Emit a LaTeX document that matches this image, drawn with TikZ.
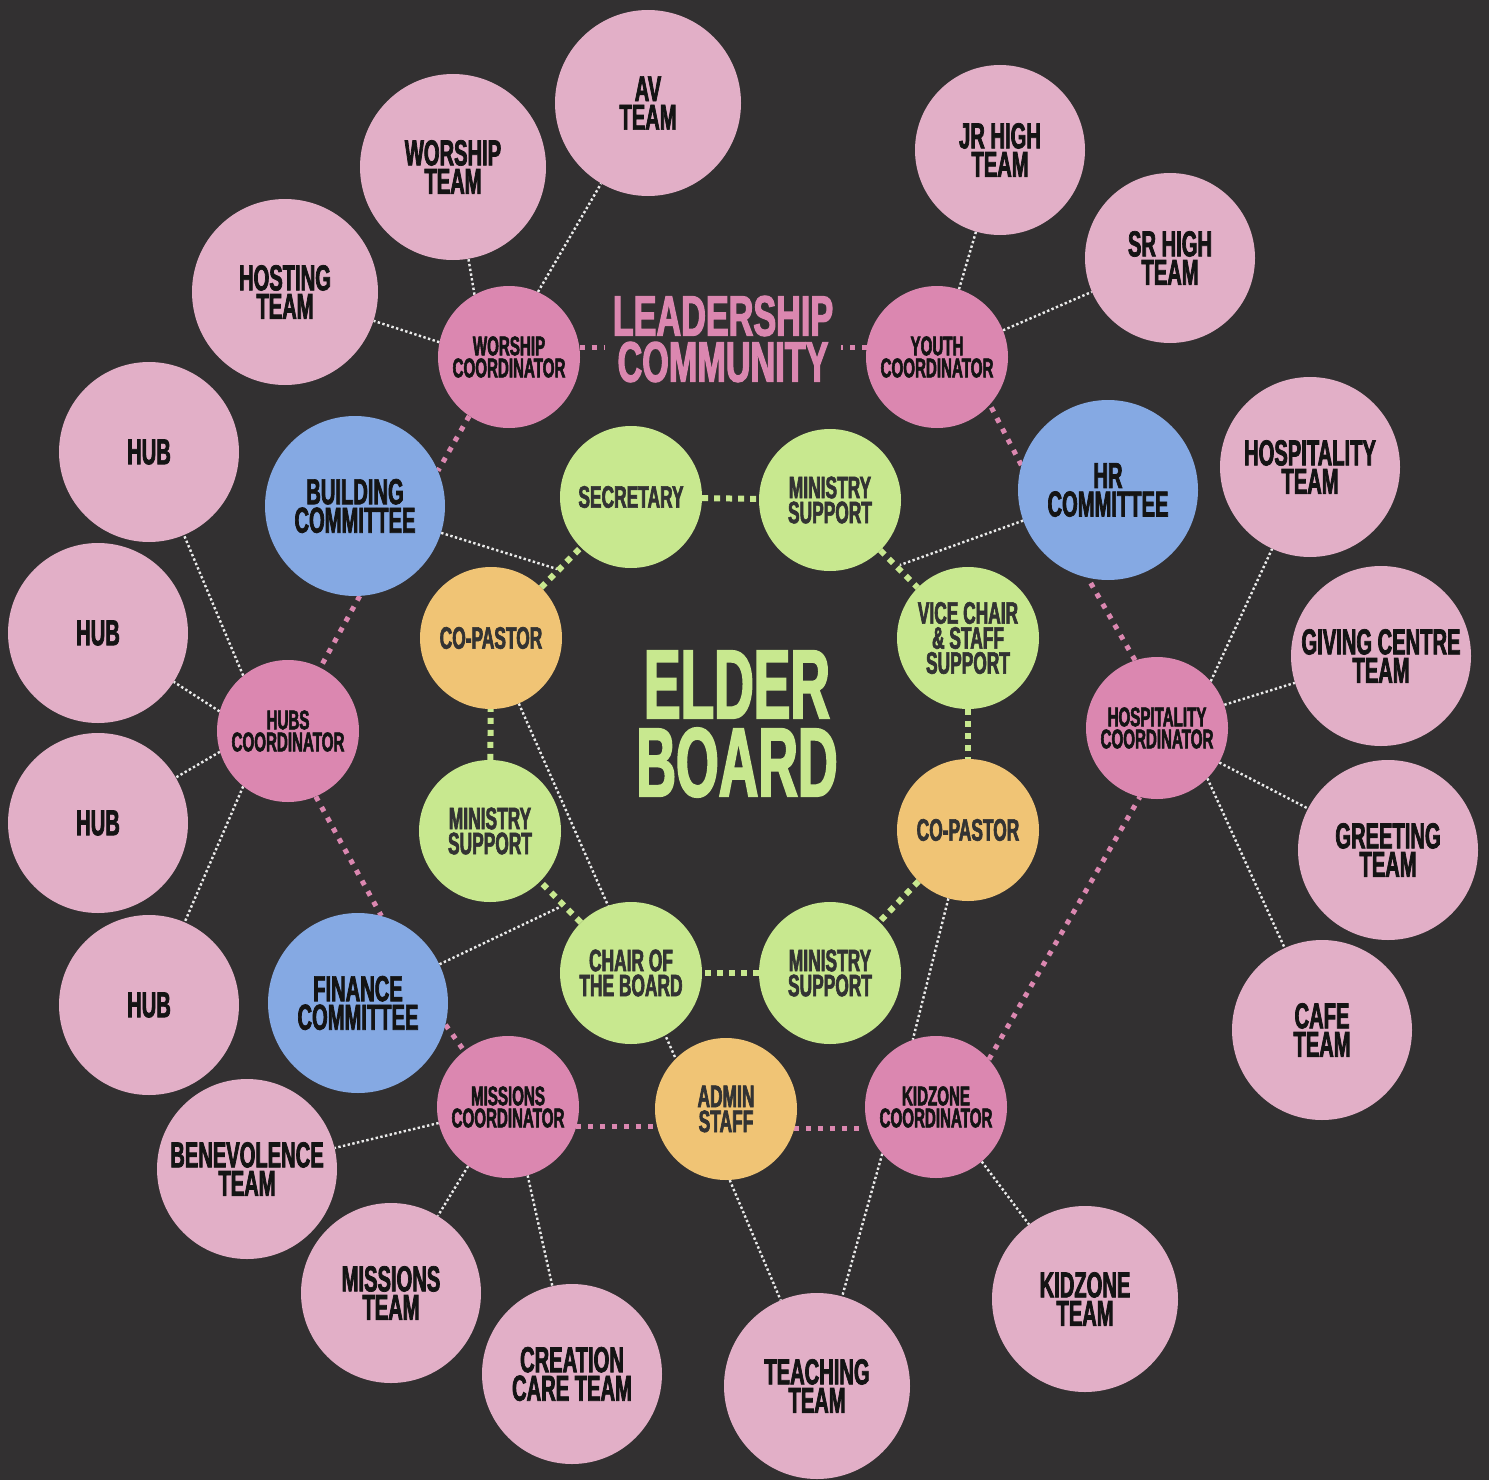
\documentclass[tikz,border=0pt]{standalone}
\usepackage{fontspec}
\newfontfamily\bb[FakeStretch=0.56,FakeBold=2]{Liberation Sans}
\newfontfamily\bbw[FakeStretch=0.6,FakeBold=2]{Liberation Sans}
\pgfdeclarelayer{bg}
\pgfdeclarelayer{edges}
\pgfsetlayers{bg,edges,main}
\definecolor{bgc}{HTML}{323031}
\definecolor{lpink}{HTML}{E2AFC7}
\definecolor{dpink}{HTML}{DB87B0}
\definecolor{cblue}{HTML}{85A9E3}
\definecolor{cgreen}{HTML}{C8E88F}
\definecolor{corange}{HTML}{F0C475}
\definecolor{ink}{HTML}{141414}
\definecolor{ink2}{HTML}{333333}
\begin{document}
\begin{tikzpicture}[x=1pt,y=-1pt,
 base/.style={circle,inner sep=0pt,align=center},
 team/.style={base,fill=lpink,minimum size=180pt,text=ink,font={\bb\bfseries\fontsize{36}{28.5}\selectfont}},
 bigteam/.style={team,minimum size=186pt},
 coord/.style={base,fill=dpink,minimum size=142pt,text=ink,font={\bb\bfseries\fontsize{27}{22}\selectfont}},
 comm/.style={base,fill=cblue,minimum size=180pt,text=ink,font={\bb\bfseries\fontsize{36}{28.5}\selectfont}},
 elder/.style={base,fill=cgreen,minimum size=142pt,text=ink2,font={\bb\bfseries\fontsize{31}{25}\selectfont}},
 staff/.style={elder,fill=corange},
 wline/.style={draw=white!92!black,line width=2.4pt,dash pattern=on 2.4pt off 2.4pt},
 pline/.style={draw=dpink,line width=5pt,dash pattern=on 5pt off 7pt},
 gline/.style={draw=cgreen,line width=6pt,dash pattern=on 6pt off 6pt},
]
\useasboundingbox (0,0) rectangle (1489,1480);
\begin{pgfonlayer}{bg}
\fill[bgc] (0,0) rectangle (1489,1480);
\end{pgfonlayer}

% teams
\node[bigteam] (av) at (648,103) {AV\\TEAM};
\node[bigteam] (wt) at (453,167) {WORSHIP\\TEAM};
\node[bigteam] (host) at (285,292) {HOSTING\\TEAM};
\node[team] (hub1) at (149,452) {HUB};
\node[team] (hub2) at (98,633) {HUB};
\node[team] (hub3) at (98,823) {HUB};
\node[team] (hub4) at (149,1005) {HUB};
\node[team] (ben) at (247,1169) {BENEVOLENCE\\TEAM};
\node[team] (mt) at (391,1293) {MISSIONS\\TEAM};
\node[team] (cc) at (572,1374) {CREATION\\CARE TEAM};
\node[bigteam] (tt) at (817,1386) {TEACHING\\TEAM};
\node[bigteam] (kt) at (1085,1299) {KIDZONE\\TEAM};
\node[team] (cafe) at (1322,1030) {CAFE\\TEAM};
\node[team] (greet) at (1388,850) {GREETING\\TEAM};
\node[team] (give) at (1381,656) {GIVING CENTRE\\TEAM};
\node[team] (hosp) at (1310,467) {HOSPITALITY\\TEAM};
\node[team,minimum size=170pt] (sr) at (1170,258) {SR HIGH\\TEAM};
\node[team,minimum size=170pt] (jr) at (1000,150) {JR HIGH\\TEAM};

% coordinators
\node[coord] (wc) at (509,357) {WORSHIP\\COORDINATOR};
\node[coord] (yc) at (937,357) {YOUTH\\COORDINATOR};
\node[coord] (hubc) at (288,731) {HUBS\\COORDINATOR};
\node[coord] (hospc) at (1157,728) {HOSPITALITY\\COORDINATOR};
\node[coord] (mc) at (508,1107) {MISSIONS\\COORDINATOR};
\node[coord] (kc) at (936,1107) {KIDZONE\\COORDINATOR};

% committees
\node[comm] (bc) at (355,506) {BUILDING\\COMMITTEE};
\node[comm] (hr) at (1108,490) {HR\\COMMITTEE};
\node[comm] (fc) at (358,1003) {FINANCE\\COMMITTEE};

% staff
\node[staff] (copl) at (491,638) {CO-PASTOR};
\node[staff] (copr) at (968,830) {CO-PASTOR};
\node[staff] (admin) at (726,1109) {ADMIN\\STAFF};

% elder board
\node[elder] (sec) at (631,497) {SECRETARY};
\node[elder] (mst) at (830,500) {MINISTRY\\SUPPORT};
\node[elder] (vice) at (968,638) {VICE CHAIR\\\& STAFF\\SUPPORT};
\node[elder] (msl) at (490,831) {MINISTRY\\SUPPORT};
\node[elder] (chair) at (631,973) {CHAIR OF\\THE BOARD};
\node[elder] (msb) at (830,973) {MINISTRY\\SUPPORT};

% titles
\node[inner sep=0pt,align=center,text=dpink,font={\bbw\bfseries\fontsize{57}{46}\selectfont}] (lead) at (723,339) {LEADERSHIP\\COMMUNITY};
\node[inner sep=0pt,align=center,text=cgreen,font={\bb\bfseries\fontsize{98}{78}\selectfont}] (eb) at (737,724) {ELDER\\BOARD};

\coordinate (bcend) at (557,569);
\coordinate (hrend) at (900,565);
\coordinate (fcend) at (560,907);

\begin{pgfonlayer}{edges}
% thin white
\draw[wline] (wc.66) -- (av);
\draw[wline] (wc.119) -- (wt);
\draw[wline] (wc.168) -- (host);
\draw[wline] (yc.72) -- (jr);
\draw[wline] (yc.22) -- (sr);
\draw[wline] (hubc.129) -- (hub1);
\draw[wline] (hubc.164) -- (hub2);
\draw[wline] (hubc.197) -- (hub3);
\draw[wline] (hubc.231) -- (hub4);
\draw[wline] (hospc.41) -- (hosp);
\draw[wline] (hospc.19) -- (give);
\draw[wline] (hospc.-29) -- (greet);
\draw[wline] (hospc.-45) -- (cafe);
\draw[wline] (mc.193) -- (ben);
\draw[wline] (mc.236) -- (mt);
\draw[wline] (mc.286) -- (cc);
\draw[wline] (kc.221) -- (tt);
\draw[wline] (kc.310) -- (kt);
\draw[wline] (admin.273) -- (tt);
\draw[wline] (copl.293) -- (admin.135);
\draw[wline] (copr.254) -- (kc.109);
\draw[wline] (bc) -- (bcend);
\draw[wline] (hr) -- (hrend);
\draw[wline] (fc) -- (fcend);
% pink ring
\draw[pline,shorten >=8pt] (wc.8) -- (wc.8 -| lead.west);
\draw[pline,shorten >=8pt] (yc.172) -- (yc.172 -| lead.east);
\draw[pline] (wc.236) -- (bc.23);
\draw[pline] (bc.-87) -- (hubc.63);
\draw[pline] (hubc.-67) -- (fc.75);
\draw[pline] (fc.-14) -- (mc.128);
\draw[pline] (mc.-16) -- (mc.-16 -| admin.west);
\draw[pline] (admin.-16) -- (admin.-16 -| kc.west);
\draw[pline] (kc.42) -- (hospc.256);
\draw[pline] (hospc.108) -- (hr.257);
\draw[pline] (hr.164) -- (yc.-42);
% green ring
\draw[gline] (sec) -- (mst);
\draw[gline] (mst) -- (vice);
\draw[gline] (vice) -- (copr);
\draw[gline] (copr) -- (msb);
\draw[gline] (msb) -- (chair);
\draw[gline] (chair) -- (msl);
\draw[gline] (msl) -- (copl);
\draw[gline] (copl) -- (sec);
\end{pgfonlayer}
\end{tikzpicture}
\end{document}
